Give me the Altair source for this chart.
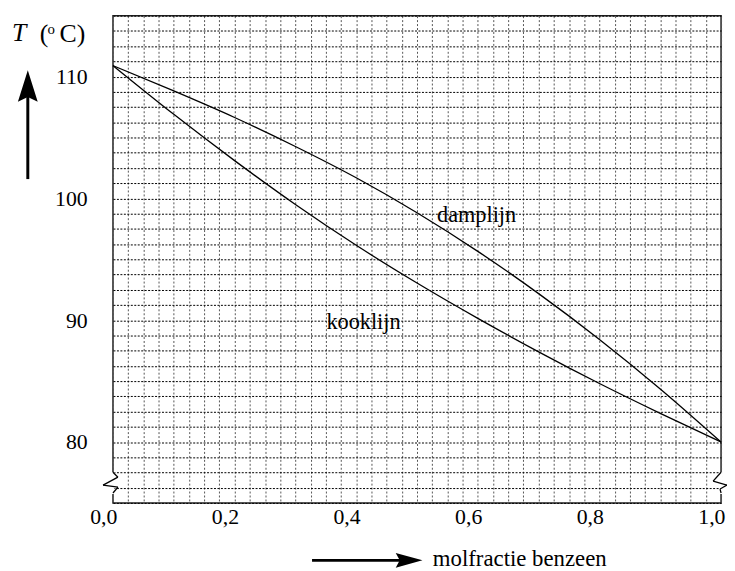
import altair as alt
import pandas as pd

# ---- data ----
x_frac = [0.0, 0.1, 0.2, 0.3, 0.4, 0.5, 0.6, 0.7, 0.8, 0.9, 1.0]
T_kook = [110.9, 106.9, 103.1, 99.5, 96.15, 93.05, 90.15, 87.4, 84.8, 82.35, 80.0]
T_damp = [110.9, 108.82, 106.64, 104.26, 101.69, 98.82, 95.65, 92.18, 88.42, 84.36, 80.0]

label_text = ["damplijn", "kooklijn"]
label_x = [0.598, 0.412]
label_y = [98.6, 89.85]

FONT = "Liberation Serif"
W, H = 614, 492

curves = pd.DataFrame({
    "x": x_frac * 2,
    "T": T_kook + T_damp,
    "lijn": ["kooklijn"] * len(x_frac) + ["damplijn"] * len(x_frac),
})
labels = pd.DataFrame({"x": label_x, "T": label_y, "t": label_text})
one = pd.DataFrame({"a": [0]})

x_grid = [round(i * 0.025, 4) for i in range(41)]
y_grid = [75 + 1.25 * i for i in range(33)]

xscale = alt.Scale(domain=[0, 1], nice=False, zero=False)
yscale = alt.Scale(domain=[75, 115], nice=False, zero=False)

xaxis = alt.Axis(
    values=x_grid, title=None, ticks=False, domain=False,
    grid=True, gridColor="#555", gridDash=[2, 2], gridWidth=1,
    labelExpr="abs(datum.value*5 - round(datum.value*5)) < 0.000001 ? replace(format(datum.value, '.1f'), '.', ',') : ''",
    labelFont=FONT, labelFontSize=22, labelColor="black",
    labelAlign="right", labelOffset=4, labelPadding=4,
    labelOverlap=False, labelFlush=False,
)
yaxis = alt.Axis(
    values=y_grid, title=None, ticks=False, domain=False,
    grid=True, gridColor="#000", gridDash=[2, 1.5], gridWidth=1,
    labelExpr="(datum.value == 80 || datum.value == 90 || datum.value == 100 || datum.value == 110) ? format(datum.value, 'd') : ''",
    labelFont=FONT, labelFontSize=22, labelColor="black",
    labelPadding=26, labelOverlap=False, labelFlush=False,
)

lines = alt.Chart(curves).mark_line(
    interpolate="monotone", color="black", strokeWidth=1.3
).encode(
    x=alt.X("x:Q", scale=xscale, axis=xaxis),
    y=alt.Y("T:Q", scale=yscale, axis=yaxis),
    detail="lijn:N",
)

texts = alt.Chart(labels).mark_text(
    font=FONT, fontSize=22.5, color="black", align="center", baseline="middle"
).encode(
    x=alt.X("x:Q", scale=xscale, axis=xaxis),
    y=alt.Y("T:Q", scale=yscale, axis=yaxis),
    text="t:N",
)


def seg(x1, y1, x2, y2, color="black", width=1.3):
    return alt.Chart(one).mark_rule(color=color, strokeWidth=width).encode(
        x=alt.value(x1), y=alt.value(y1), x2=alt.value(x2), y2=alt.value(y2)
    )


def txt(s, x, y, size=22, style="normal", align="left", font=FONT):
    return alt.Chart(one).mark_text(
        text=s, font=font, fontSize=size, fontStyle=style, color="black",
        align=align, baseline="alphabetic"
    ).encode(x=alt.value(x), y=alt.value(y))


# axis breaks (zig-zags) on left and right frame
breaks = [
    seg(0, 461, 0, 483, color="white", width=3),
    seg(W, 461, W, 483, color="white", width=3),
    seg(0, 461, 5, 466), seg(5, 466, -10, 474), seg(-10, 474, 5, 476), seg(5, 476, 0, 482),
    seg(W, 461, W - 8, 470), seg(W - 8, 470, W + 6, 474), seg(W + 6, 474, W - 1, 478), seg(W - 1, 478, W, 482),
]

up_head = "M0,-1L0.625,1L0,0.7L-0.625,1Z"
right_head = "M1,0L-1,0.55L-0.7,0L-1,-0.55Z"

arrows = [
    seg(-86, 82, -86, 165, width=3),
    alt.Chart(one).mark_point(shape=up_head, filled=True, color="black", opacity=1, size=1024).encode(
        x=alt.value(-86), y=alt.value(71)
    ),
    seg(201, 550, 292, 550, width=3),
    alt.Chart(one).mark_point(shape=right_head, filled=True, color="black", opacity=1, size=729).encode(
        x=alt.value(299), y=alt.value(550)
    ),
]

titles = [
    txt("T", -102, 26, size=26, style="italic"),
    txt("(", -74, 27, size=26),
    txt("o", -66, 19, size=15),
    txt("C)", -54, 27, size=26),
    txt("molfractie benzeen", 323, 556, size=23),
]

chart = alt.layer(lines, texts, *breaks, *arrows, *titles).properties(
    width=W, height=H,
    autosize=alt.AutoSizeParams(type="none"),
    padding={"left": 106, "top": 5, "right": 6, "bottom": 66},
).configure_view(stroke="#222", strokeWidth=1.5)

chart.save("out.html", embed_options={"renderer": "svg", "actions": False})
